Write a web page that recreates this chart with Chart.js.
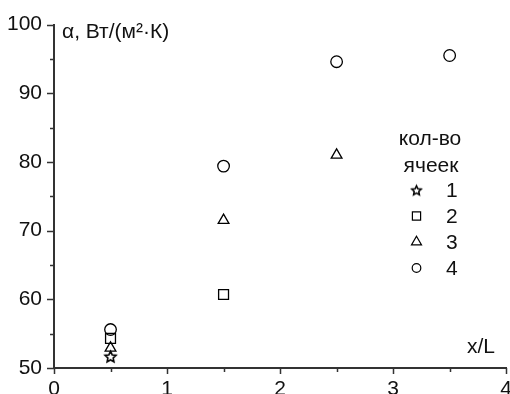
<!DOCTYPE html>
<html>
<head>
<meta charset="utf-8">
<script src="https://cdn.jsdelivr.net/npm/chart.js@4/dist/chart.umd.min.js"></script>
<style>
  html, body { margin: 0; padding: 0; background: #fff; overflow: hidden; }
  #wrap { width: 521px; height: 404px; position: relative; }
</style>
</head>
<body>
<div id="wrap"><canvas id="chart"></canvas></div>
<script>
// data
const xPos = [0.5, 1.5, 2.5, 3.5];
const cells1 = [51.7];
const cells2 = [54.3, 60.7];
const cells3 = [52.9, 71.5, 81.0];
const cells4 = [55.6, 79.4, 94.6, 95.5];
const seriesLabels = ["1", "2", "3", "4"];
const xTickLabels = [0, 1, 2, 3, 4];
const yTickLabels = [50, 60, 70, 80, 90, 100];

const axisColor = "#333333";
const ink = "#111111";
const fontFamily = "'Liberation Sans', Arial, sans-serif";
const fontSize = 21;
Chart.defaults.font.family = fontFamily;
Chart.defaults.color = ink;

// outlined five point star, used as a point style
function starImage(r, lw) {
  const s = Math.ceil(r * 2 + 5);
  const c = document.createElement("canvas");
  c.width = s;
  c.height = s;
  const g = c.getContext("2d");
  g.beginPath();
  for (let i = 0; i < 10; i++) {
    const rr = i % 2 ? r * 0.48 : r;
    const a = -Math.PI / 2 + (i * Math.PI) / 5;
    g.lineTo(s / 2 + rr * Math.cos(a), s / 2 + 0.7 + rr * Math.sin(a));
  }
  g.closePath();
  g.lineJoin = "miter";
  g.lineWidth = lw;
  g.strokeStyle = "#000";
  g.stroke();
  return c;
}

const styles = [
  { pointStyle: starImage(5.8, 1.6), legendStyle: starImage(5, 1.5), radius: 5.5, legendRadius: 5 },
  { pointStyle: "rect", radius: 7, legendRadius: 5.8 },
  { pointStyle: "triangle", radius: 6.2, legendRadius: 5.8 },
  { pointStyle: "circle", radius: 5.8, legendRadius: 4.3 }
];

const seriesValues = [cells1, cells2, cells3, cells4];
const datasets = seriesValues.map((vals, i) => ({
  label: seriesLabels[i],
  data: vals.map((v, j) => ({ x: xPos[j], y: v })),
  pointStyle: styles[i].pointStyle,
  pointRadius: styles[i].radius,
  pointBorderColor: "#000",
  pointBackgroundColor: "rgba(0,0,0,0)",
  pointBorderWidth: 1.3,
  showLine: false
}));

// major and minor tick marks drawn from the scales
const axisTicks = {
  id: "axisTicks",
  afterDraw(chart) {
    const { ctx, chartArea } = chart;
    const x = chart.scales.x;
    const y = chart.scales.y;
    ctx.save();
    ctx.strokeStyle = axisColor;
    ctx.lineWidth = 1.5;
    ctx.beginPath();
    x.ticks.forEach(t => {
      const px = Math.round(x.getPixelForValue(t.value)) + 0.5;
      const len = xTickLabels.includes(t.value) ? 6 : 4;
      ctx.moveTo(px, chartArea.bottom);
      ctx.lineTo(px, chartArea.bottom + len);
    });
    y.ticks.forEach(t => {
      const py = Math.round(y.getPixelForValue(t.value)) + 0.5;
      const len = yTickLabels.includes(t.value) ? 7 : 4;
      ctx.moveTo(chartArea.left, py);
      ctx.lineTo(chartArea.left - len, py);
    });
    ctx.stroke();
    ctx.restore();
  }
};

// axis titles and the legend block
const annotations = {
  id: "annotations",
  afterDraw(chart) {
    const ctx = chart.ctx;
    ctx.save();
    ctx.fillStyle = ink;
    ctx.font = fontSize + "px " + fontFamily;
    ctx.textBaseline = "middle";
    ctx.textAlign = "left";
    ctx.fillText("α, Вт/(м²·К)", 62, 32);
    ctx.fillText("x/L", 467, 347);

    ctx.textAlign = "center";
    ctx.fillText("кол-во", 430, 139);
    ctx.fillText("ячеек", 431, 166);

    ctx.textAlign = "left";
    const helpers = Chart.helpers;
    datasets.forEach((ds, i) => {
      const ly = 190 + i * 26;
      const st = styles[i];
      const ps = st.legendStyle || st.pointStyle;
      ctx.strokeStyle = "#000";
      ctx.fillStyle = "rgba(0,0,0,0)";
      ctx.lineWidth = 1.2;
      if (helpers && helpers.drawPoint) {
        helpers.drawPoint(ctx, { pointStyle: ps, radius: st.legendRadius, borderWidth: 1.2, rotation: 0 }, 416.5, ly);
      }
      ctx.fillStyle = ink;
      ctx.fillText(ds.label, 446, ly + 1);
    });
    ctx.restore();
  }
};

new Chart(document.getElementById("chart"), {
  type: "scatter",
  data: { datasets: datasets },
  plugins: [axisTicks, annotations],
  options: {
    responsive: true,
    maintainAspectRatio: false,
    animation: false,
    layout: { padding: { top: 22, right: 5, left: 0, bottom: 0 } },
    plugins: {
      legend: { display: false },
      tooltip: { enabled: false },
      title: { display: false }
    },
    scales: {
      x: {
        type: "linear",
        min: 0,
        max: 4,
        grid: { display: false, drawTicks: false, tickLength: 0 },
        border: { display: true, color: axisColor, width: 2 },
        ticks: {
          stepSize: 0.5,
          autoSkip: false,
          maxRotation: 0,
          padding: 9,
          font: { size: fontSize },
          color: ink,
          callback: v => (xTickLabels.includes(v) ? String(v) : "")
        },
        afterFit: s => { s.height = 36; }
      },
      y: {
        type: "linear",
        min: 50,
        max: 100,
        grid: { display: false, drawTicks: false, tickLength: 0 },
        border: { display: true, color: axisColor, width: 2 },
        ticks: {
          stepSize: 5,
          autoSkip: false,
          padding: 12,
          font: { size: fontSize },
          color: ink,
          callback: v => (yTickLabels.includes(v) ? String(v) : "")
        },
        afterFit: s => { s.width = 54; }
      }
    }
  }
});
</script>
</body>
</html>
